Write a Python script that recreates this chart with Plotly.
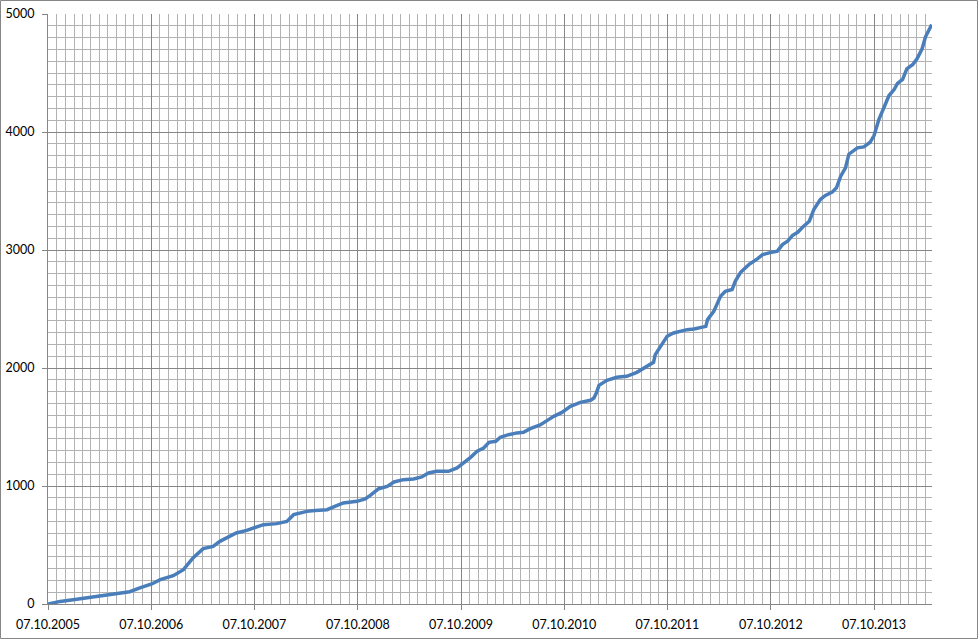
import plotly.graph_objects as go

dates = [
    "2005-10-07", "2005-11-19", "2006-01-04", "2006-03-06", "2006-05-02", "2006-06-30",
    "2006-07-23", "2006-08-28", "2006-10-09", "2006-11-08", "2006-12-24", "2007-01-29",
    "2007-03-04", "2007-04-09", "2007-05-14", "2007-06-07", "2007-07-01", "2007-08-04",
    "2007-09-10", "2007-10-09", "2007-11-08", "2007-12-25", "2008-01-30", "2008-02-23",
    "2008-04-10", "2008-05-09", "2008-06-20", "2008-07-24", "2008-08-17", "2008-10-04",
    "2008-11-02", "2008-11-20", "2008-12-20", "2009-01-19", "2009-02-12", "2009-03-17",
    "2009-04-22", "2009-05-21", "2009-06-14", "2009-07-13", "2009-08-24", "2009-09-23",
    "2009-10-16", "2009-11-10", "2009-12-03", "2009-12-26", "2010-01-14", "2010-02-07",
    "2010-02-23", "2010-03-24", "2010-04-23", "2010-05-16", "2010-06-09", "2010-07-14",
    "2010-08-07", "2010-08-31", "2010-09-29", "2010-10-29", "2010-12-03", "2011-01-08",
    "2011-01-20", "2011-01-29", "2011-02-07", "2011-03-07", "2011-04-11", "2011-05-16",
    "2011-06-21", "2011-07-26", "2011-08-19", "2011-08-25", "2011-09-13", "2011-10-06",
    "2011-10-29", "2011-12-16", "2012-01-09", "2012-02-20", "2012-02-26", "2012-03-19",
    "2012-04-12", "2012-04-29", "2012-05-23", "2012-06-03", "2012-06-22", "2012-07-21",
    "2012-08-20", "2012-09-08", "2012-10-01", "2012-10-30", "2012-11-17", "2012-12-05",
    "2012-12-22", "2013-01-10", "2013-01-27", "2013-02-20", "2013-03-08", "2013-03-31",
    "2013-04-18", "2013-05-12", "2013-05-27", "2013-06-11", "2013-06-28", "2013-07-10",
    "2013-08-09", "2013-09-01", "2013-09-23", "2013-10-07", "2013-10-24", "2013-11-12",
    "2013-11-29", "2013-12-17", "2013-12-29", "2014-01-16", "2014-01-31", "2014-02-21",
    "2014-03-08", "2014-03-26", "2014-04-07", "2014-04-29",
]

values = [
    0, 22, 36, 56, 73, 93,
    104, 136, 170, 206, 240, 291,
    390, 469, 488, 531, 560, 602,
    624, 650, 672, 681, 700, 757,
    785, 793, 799, 833, 856, 870,
    890, 921, 977, 997, 1034, 1054,
    1060, 1077, 1110, 1124, 1124, 1153,
    1195, 1243, 1294, 1322, 1370, 1379,
    1413, 1435, 1450, 1455, 1486, 1517,
    1554, 1590, 1624, 1675, 1709, 1726,
    1746, 1789, 1853, 1896, 1921, 1930,
    1963, 2014, 2048, 2113, 2184, 2269,
    2297, 2325, 2331, 2353, 2410, 2480,
    2608, 2650, 2665, 2735, 2811, 2876,
    2925, 2961, 2976, 2990, 3046, 3074,
    3122, 3150, 3193, 3244, 3343, 3428,
    3462, 3490, 3527, 3625, 3696, 3812,
    3866, 3874, 3913, 3970, 4106, 4218,
    4309, 4360, 4411, 4445, 4535, 4572,
    4620, 4705, 4807, 4910,
]

x_start = "2005-10-07"
x_end = "2014-04-30"

FONT = "Lato"
MAJOR = "#868686"
MINOR = "#B2B2B2"

fig = go.Figure()
fig.add_trace(go.Scatter(
    x=dates, y=values, mode="lines",
    line=dict(color="#4A7EBB", width=3.5),
    showlegend=False, hoverinfo="x+y",
))

fig.update_layout(
    width=978, height=639,
    margin=dict(l=48, r=46, t=14, b=35, pad=0),
    paper_bgcolor="white", plot_bgcolor="white",
    font=dict(family=FONT, size=12.5, color="#000000"),
    xaxis=dict(
        type="date", range=[x_start, x_end], automargin=False,
        tick0=x_start, dtick="M12", tickformat="%d.%m.%Y",
        ticks="outside", ticklen=5, tickcolor=MAJOR, tickwidth=1,
        showgrid=True, gridcolor=MAJOR, gridwidth=1,
        showline=True, linecolor=MAJOR, linewidth=1,
        zeroline=False,
        minor=dict(tick0=x_start, dtick="M1", showgrid=True,
                   gridcolor=MINOR, gridwidth=1, ticks=""),
        ticklabelstandoff=4,
    ),
    yaxis=dict(
        range=[0, 5000], dtick=1000, tick0=0, automargin=False,
        ticks="outside", ticklen=5, tickcolor=MAJOR, tickwidth=1,
        showgrid=True, gridcolor=MAJOR, gridwidth=1,
        showline=True, linecolor=MAJOR, linewidth=1,
        zeroline=False,
        minor=dict(dtick=100, showgrid=True, gridcolor=MINOR,
                   gridwidth=1, ticks=""),
        ticklabelstandoff=5,
    ),
)

# outer chart border
fig.add_shape(
    type="rect", xref="paper", yref="paper",
    x0=(0.5 - 48) / 884, x1=(977.5 - 48) / 884,
    y0=(604 - 638.5) / 590, y1=(604 - 0.5) / 590,
    line=dict(color=MAJOR, width=1), fillcolor="rgba(0,0,0,0)",
    layer="above",
)

fig.write_html(
    "out.html",
    config={"displayModeBar": False},
    post_script="document.body.style.margin='0';document.body.style.overflow='hidden';",
)
